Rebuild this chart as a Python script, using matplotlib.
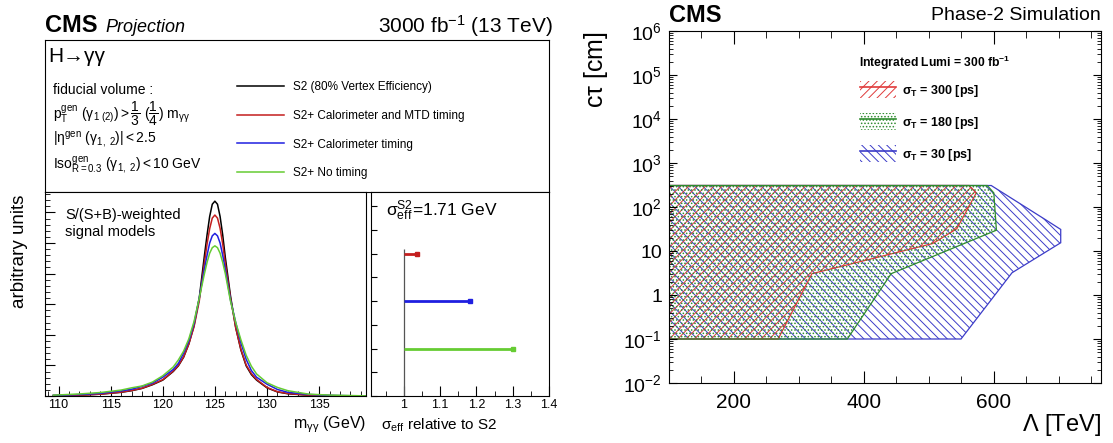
#!/usr/bin/env python3
"""H->gamma gamma signal models and timing-resolution reach in (Lambda, c tau)."""
import matplotlib
matplotlib.use("Agg")
import matplotlib.pyplot as plt
from matplotlib.lines import Line2D
from matplotlib.patches import Patch
from matplotlib.ticker import MultipleLocator, FixedLocator, FixedFormatter, LogLocator, NullFormatter, FormatStrFormatter

# ---- left: S/(S+B)-weighted signal models ----
mass_gev = [109.5, 112, 114, 116, 117, 118, 119, 120, 121, 121.5, 122, 122.5, 123, 123.5,
            124, 124.25, 124.5, 124.75, 125, 125.25, 125.5, 125.75, 126, 126.5, 127, 127.5,
            128, 128.5, 129, 130, 131, 132, 134, 136, 139.5]
shape_s2 = [0.002, 0.004, 0.009, 0.018, 0.026, 0.037, 0.055, 0.078, 0.120, 0.148, 0.190, 0.255,
            0.345, 0.480, 0.690, 0.790, 0.880, 0.940, 0.955, 0.940, 0.880, 0.790, 0.680, 0.490,
            0.335, 0.225, 0.148, 0.105, 0.078, 0.040, 0.020, 0.011, 0.004, 0.0015, 0.0]
shape_mtd = [0.002, 0.004, 0.009, 0.019, 0.027, 0.038, 0.057, 0.080, 0.122, 0.150, 0.192, 0.255,
             0.340, 0.465, 0.655, 0.745, 0.820, 0.872, 0.887, 0.872, 0.822, 0.745, 0.650, 0.480,
             0.335, 0.228, 0.152, 0.110, 0.081, 0.042, 0.021, 0.012, 0.004, 0.0015, 0.0]
shape_calo = [0.003, 0.007, 0.013, 0.025, 0.033, 0.047, 0.063, 0.092, 0.130, 0.160, 0.210, 0.270,
              0.355, 0.480, 0.625, 0.690, 0.750, 0.785, 0.797, 0.785, 0.750, 0.690, 0.620, 0.470,
              0.360, 0.260, 0.180, 0.125, 0.092, 0.058, 0.032, 0.018, 0.0075, 0.003, 0.0]
shape_notime = [0.004, 0.010, 0.017, 0.029, 0.040, 0.049, 0.068, 0.099, 0.142, 0.177, 0.220, 0.280,
                0.365, 0.480, 0.600, 0.655, 0.700, 0.727, 0.736, 0.727, 0.700, 0.655, 0.600, 0.465,
                0.360, 0.275, 0.200, 0.146, 0.108, 0.065, 0.042, 0.026, 0.009, 0.0045, 0.0005]
model_labels = ["S2 (80% Vertex Efficiency)", "S2+ Calorimeter and MTD timing",
                "S2+ Calorimeter timing", "S2+ No timing"]
model_colors = ["#000000", "#c41e1e", "#1f1fe0", "#66cc33"]

# sigma_eff relative to S2 (rows 3, 2, 1 from top)
sigma_rel = [1.036, 1.182, 1.302]
sigma_rows = [3, 2, 1]
ref_line_top = 3.1

# ---- right: excluded regions, Lambda [TeV] vs c tau [cm] ----
red_lam = [100, 268, 320, 506, 543, 573, 562, 100]
red_ctau = [0.1, 0.1, 3.05, 14.8, 32, 209, 308, 308]
green_lam = [100, 374.5, 442, 604, 600, 590, 100, 100]
green_ctau = [0.1, 0.1, 3.05, 29.7, 209, 308, 308, 1550]
blue_lam = [100, 549.5, 628, 703, 703, 680, 596, 100]
blue_ctau = [0.1, 0.1, 3.2, 15.4, 30.9, 51, 308, 308]
res_labels = [r"$\sigma_\mathbf{T}$ = 300 [ps]", r"$\sigma_\mathbf{T}$ = 180 [ps]", r"$\sigma_\mathbf{T}$ = 30 [ps]"]
res_colors = ["#e03a3a", "#2e8b2e", "#3c3cc8"]
res_hatches = ["////", ".....", "\\\\\\\\"]
ctau_ticks = [1e-2, 1e-1, 1, 10, 1e2, 1e3, 1e4, 1e5, 1e6]
ctau_ticklabels = [r"$10^{-2}$", r"$10^{-1}$", "1", "10", r"$10^{2}$", r"$10^{3}$",
                   r"$10^{4}$", r"$10^{5}$", r"$10^{6}$"]

plt.rcParams["font.family"] = ["Liberation Sans", "DejaVu Sans"]
plt.rcParams["mathtext.fontset"] = "custom"
plt.rcParams["mathtext.rm"] = "Liberation Sans"
plt.rcParams["mathtext.it"] = "Liberation Sans:italic"
plt.rcParams["mathtext.bf"] = "Liberation Sans:bold"
plt.rcParams["mathtext.default"] = "regular"
plt.rcParams["hatch.linewidth"] = 0.7
plt.rcParams["axes.linewidth"] = 0.8

W, H = 1113, 443


def fx(px):
    return px / W


def fy(py):
    return 1 - py / H


def rect(x0, y0, x1, y1):
    return [fx(x0), fy(y1), (x1 - x0) / W, (y1 - y0) / H]


fig = plt.figure(figsize=(W / 100, H / 100), dpi=100)

# --- info box ---
ax_box = fig.add_axes(rect(45, 40, 549, 192))
ax_box.set_xticks([])
ax_box.set_yticks([])

# --- signal model panel ---
ax_m = fig.add_axes(rect(45, 192, 366, 396))
handles = []
for shape, col in zip([shape_s2, shape_mtd, shape_calo, shape_notime], model_colors):
    ln, = ax_m.plot(mass_gev, shape, color=col, lw=1.1)
    handles.append(ln)
ax_m.set_xlim(108.7, 139.5)
ax_m.set_ylim(0, 1.0)
ax_m.xaxis.set_major_locator(MultipleLocator(5))
ax_m.xaxis.set_minor_locator(MultipleLocator(1))
ax_m.yaxis.set_major_locator(MultipleLocator(0.15))
ax_m.yaxis.set_minor_locator(MultipleLocator(0.03))
ax_m.yaxis.set_major_formatter(NullFormatter())
ax_m.tick_params(which="both", direction="in", top=False, right=False, labelsize=9, pad=2.5)
ax_m.tick_params(which="major", length=7)
ax_m.tick_params(which="minor", length=3.5)

# --- sigma_eff panel ---
ax_r = fig.add_axes(rect(371, 192, 549, 396))
ax_r.vlines(1.0, 0, ref_line_top, color="#555555", lw=0.9)
ax_r.hlines(sigma_rows, 1.0, sigma_rel, colors=model_colors[1:], lw=2.0)
for xv, yv, col in zip(sigma_rel, sigma_rows, model_colors[1:]):
    ax_r.plot(xv, yv, "s", color=col, ms=2.5)
ax_r.set_xlim(0.91, 1.4)
ax_r.set_ylim(0, 4.3)
ax_r.xaxis.set_major_locator(MultipleLocator(0.1))
ax_r.xaxis.set_minor_locator(MultipleLocator(0.05))
ax_r.xaxis.set_major_formatter(FormatStrFormatter("%g"))
ax_r.yaxis.set_major_locator(MultipleLocator(0.5))
ax_r.yaxis.set_major_formatter(NullFormatter())
ax_r.tick_params(which="both", direction="in", top=False, right=False, labelsize=9, pad=2.5)
ax_r.tick_params(axis="x", which="major", length=7)
ax_r.tick_params(axis="x", which="minor", length=3.5)
ax_r.tick_params(axis="y", which="major", length=4)

ax_box.legend(handles, model_labels, loc="upper left", bbox_to_anchor=(fx(237), fy(81)),
              bbox_transform=fig.transFigure, frameon=False, fontsize=8.5, handlelength=4.0,
              handletextpad=0.75, labelspacing=1.42, borderpad=0, borderaxespad=0)

fig.text(fx(45), fy(26), "CMS", fontsize=17, fontweight="bold", va="center", ha="left")
fig.text(fx(105), fy(27), "Projection", fontsize=13, style="italic", va="center", ha="left")
fig.text(fx(553), fy(26), r"3000 fb$^{-1}$ (13 TeV)", fontsize=15, va="center", ha="right")
fig.text(fx(48), fy(57), "H→γγ", fontsize=15, va="center", ha="left")
fig.text(fx(53), fy(90), "fiducial volume :", fontsize=10, va="center", ha="left")
fig.text(fx(53), fy(114), r"$p_T^{gen}\ (\gamma_{1\ (2)}) > \dfrac{1}{3}\ (\dfrac{1}{4})\ m_{\gamma\gamma}$",
         fontsize=10, va="center", ha="left")
fig.text(fx(53), fy(139), r"$|\eta^{gen}\ (\gamma_{1,\ 2})| < 2.5$", fontsize=10, va="center", ha="left")
fig.text(fx(53), fy(165), r"$Iso^{gen}_{R=0.3}\ (\gamma_{1,\ 2}) < 10\ GeV$", fontsize=10,
         va="center", ha="left")
fig.text(fx(19.5), fy(195), "arbitrary units", fontsize=13.5, rotation=90, va="top", ha="center")
fig.text(fx(65), fy(208), "S/(S+B)-weighted\nsignal models", fontsize=10.5, va="top", ha="left",
         linespacing=1.25)
fig.text(fx(366), fy(425), r"$m_{\gamma\gamma}$ (GeV)", fontsize=11.5, va="center", ha="right")
fig.text(fx(386), fy(211), r"$\sigma_{eff}^{S2}$=1.71 GeV", fontsize=12.5, va="center", ha="left")
fig.text(fx(381), fy(425), r"$\sigma_{eff}$ relative to S2", fontsize=11, va="center", ha="left")

# --- reach panel ---
ax_l = fig.add_axes(rect(669, 31, 1101, 383))
ax_l.fill(blue_lam, blue_ctau, facecolor="none", edgecolor=res_colors[2], hatch=res_hatches[2], lw=0.9)
ax_l.fill(red_lam, red_ctau, facecolor="none", edgecolor=res_colors[0], hatch=res_hatches[0], lw=0.9)
ax_l.fill(green_lam, green_ctau, facecolor="none", edgecolor=res_colors[1], hatch=res_hatches[1], lw=0.9)
ax_l.set_yscale("log")
ax_l.set_xlim(100, 765)
ax_l.set_ylim(1e-2, 1e6)
ax_l.xaxis.set_major_locator(FixedLocator([200, 400, 600]))
ax_l.xaxis.set_minor_locator(MultipleLocator(50))
ax_l.yaxis.set_major_locator(FixedLocator(ctau_ticks))
ax_l.yaxis.set_major_formatter(FixedFormatter(ctau_ticklabels))
ax_l.yaxis.set_minor_locator(LogLocator(base=10, subs=range(2, 10), numticks=20))
ax_l.yaxis.set_minor_formatter(NullFormatter())
ax_l.tick_params(which="both", direction="in", top=True, right=True)
ax_l.tick_params(axis="x", which="major", length=9, labelsize=15, pad=7)
ax_l.tick_params(axis="x", which="minor", length=5)
ax_l.tick_params(axis="y", which="major", length=6, labelsize=14, pad=5)
ax_l.tick_params(axis="y", which="minor", length=3)

res_handles = []
for col, hatch in zip(res_colors, res_hatches):
    res_handles.append((Patch(facecolor="none", edgecolor=col, hatch=hatch, lw=0),
                        Line2D([], [], color=col, lw=1.2)))
ax_l.legend(res_handles, res_labels, loc="upper left", bbox_to_anchor=(fx(860), fy(81)),
            bbox_transform=fig.transFigure, frameon=False, prop={"weight": "bold", "size": 9},
            handlelength=2.9, handleheight=1.75, handletextpad=0.5,
            labelspacing=1.15, borderpad=0, borderaxespad=0)
fig.text(fx(859), fy(63), r"Integrated Lumi = 300 fb$^\mathbf{-1}$", fontsize=8.7, fontweight="bold",
         va="center", ha="left")

fig.text(fx(669), fy(15), "CMS", fontsize=17, fontweight="bold", va="center", ha="left")
fig.text(fx(1101), fy(15), "Phase-2 Simulation", fontsize=14, va="center", ha="right")
fig.text(fx(596), fy(31), r"c$\tau$ [cm]", fontsize=18, rotation=90, va="top", ha="center")
fig.text(fx(1101), fy(425), r"$\Lambda$ [TeV]", fontsize=17, va="center", ha="right")

fig.savefig("out.png", dpi=100)
